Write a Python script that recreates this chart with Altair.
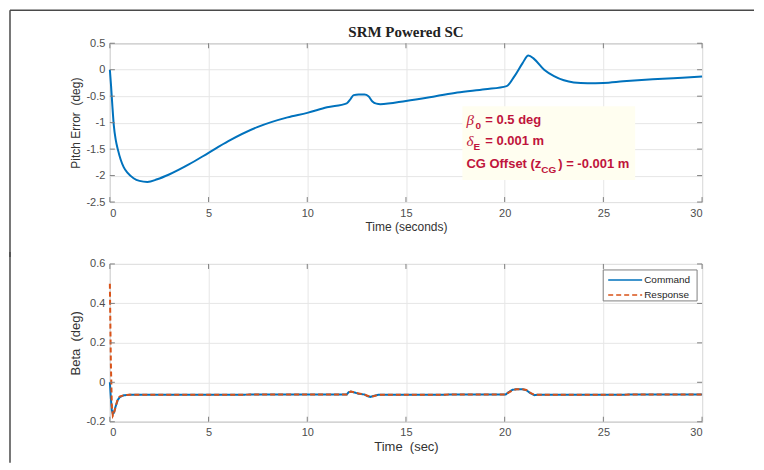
import altair as alt
import pandas as pd

# ---------------- data ----------------
t_pitch = [0, 0.06, 0.13, 0.2, 0.3, 0.4, 0.55, 0.7, 0.9, 1.2, 1.5, 1.9, 2.4, 3.0,
           4.0, 5.0, 6.0, 7.5, 9.0, 10.0, 11.0, 12.0, 12.2, 12.35, 12.6, 12.9,
           13.1, 13.3, 13.5, 13.7, 15.0, 16.5, 17.6, 19.0, 20.1, 20.5, 20.9, 21.2,
           21.5, 22.0, 22.5, 23.0, 23.5, 24.2, 25.0, 26.0, 27.5, 29.0, 30.0]
pitch = [0, -0.3, -0.7, -1.05, -1.33, -1.5, -1.7, -1.84, -1.95, -2.05, -2.1, -2.12, -2.07, -1.98,
         -1.79, -1.57, -1.35, -1.08, -0.9, -0.815, -0.71, -0.635, -0.55, -0.48, -0.47, -0.47,
         -0.5, -0.6, -0.64, -0.65, -0.59, -0.5, -0.43, -0.37, -0.31, -0.12, 0.12, 0.27,
         0.2, 0.0, -0.12, -0.2, -0.24, -0.255, -0.25, -0.22, -0.18, -0.15, -0.13]

t_beta = [0, 0.05, 0.1, 0.15, 0.2, 0.3, 0.4, 0.5, 0.7, 1.0, 12.0, 12.1, 12.2, 12.4, 12.6,
          12.9, 13.05, 13.2, 13.4, 13.6, 20.05, 20.2, 20.4, 20.6, 20.9, 21.1, 21.3, 21.5,
          21.7, 30.0]
beta_cmd = [0, -0.08, -0.14, -0.16, -0.155, -0.12, -0.09, -0.075, -0.066, -0.063, -0.062,
            -0.05, -0.047, -0.052, -0.058, -0.062, -0.07, -0.074, -0.068, -0.063, -0.062,
            -0.05, -0.038, -0.035, -0.035, -0.04, -0.055, -0.065, -0.063, -0.062]
beta_resp = [0.5, 0.1, -0.12, -0.17, -0.16, -0.12, -0.085, -0.072, -0.066, -0.063, -0.062,
             -0.052, -0.047, -0.051, -0.057, -0.062, -0.068, -0.074, -0.069, -0.063, -0.062,
             -0.052, -0.04, -0.035, -0.035, -0.039, -0.053, -0.064, -0.063, -0.062]
series_names = ["Command", "Response"]

x_ticks = [0, 5, 10, 15, 20, 25, 30]
pitch_ticks = [0.5, 0, -0.5, -1, -1.5, -2, -2.5]
beta_ticks = [-0.2, 0, 0.2, 0.4, 0.6]

TITLE = "SRM Powered SC"
X_TITLE_TOP = "Time (seconds)"
X_TITLE_BOT = "Time \u00a0(sec)"
Y_TITLE_TOP = "Pitch Error \u00a0(deg)"
Y_TITLE_BOT = "Beta \u00a0(deg)"

BLUE = "#0072BD"
ORANGE = "#D95319"
RED_TXT = "#C0143C"
FRAME = "#4A4A4A"
BOX = "#808080"
FONT = "Liberation Sans"
LBL = "datum.value + ''"

W = 593
H_TOP = 159
H_BOT = 158
TICK = 5

df_pitch = pd.DataFrame({"t": t_pitch, "v": pitch})
df_beta = pd.concat([
    pd.DataFrame({"t": t_beta, "v": beta_cmd, "series": series_names[0]}),
    pd.DataFrame({"t": t_beta, "v": beta_resp, "series": series_names[1]}),
])
one = pd.DataFrame({"a": [0]})

def xenc(title, tsize=12):
    return alt.X("t:Q", scale=alt.Scale(domain=[0, 30], nice=False),
                 axis=alt.Axis(values=x_ticks, title=title, labelExpr=LBL,
                               titleFontSize=tsize))

def yenc(domain, ticks, title, tsize=12):
    return alt.Y("v:Q", scale=alt.Scale(domain=domain, nice=False),
                 axis=alt.Axis(values=ticks, title=title, labelExpr=LBL,
                               titleFontSize=tsize))

def inward_ticks(xe, ye, yticks, h):
    dx = pd.DataFrame({"t": x_ticks})
    dy = pd.DataFrame({"v": yticks})
    r = dict(color=BOX, strokeWidth=1)
    return [
        alt.Chart(dx).mark_rule(**r).encode(x=xe, y=alt.value(h), y2=alt.value(h - TICK)),
        alt.Chart(dx).mark_rule(**r).encode(x=xe, y=alt.value(0), y2=alt.value(TICK)),
        alt.Chart(dy).mark_rule(**r).encode(y=ye, x=alt.value(0), x2=alt.value(TICK)),
        alt.Chart(dy).mark_rule(**r).encode(y=ye, x=alt.value(W), x2=alt.value(W - TICK)),
    ]

def hrule(x1, x2, y, color=FRAME, width=1.5, dash=None):
    kw = dict(color=color, strokeWidth=width)
    if dash:
        kw["strokeDash"] = dash
    return alt.Chart(one).mark_rule(**kw).encode(
        x=alt.value(x1), x2=alt.value(x2), y=alt.value(y))

def vrule(x, y1, y2):
    return alt.Chart(one).mark_rule(color=FRAME, strokeWidth=1.5).encode(
        x=alt.value(x), y=alt.value(y1), y2=alt.value(y2))

def txt(s, x, y, size=13, style="normal", font=FONT, weight="bold", color=RED_TXT,
        align="left"):
    return alt.Chart(pd.DataFrame({"s": [s]})).mark_text(
        align=align, baseline="middle", fontSize=size, font=font,
        fontStyle=style, fontWeight=weight, color=color).encode(
        text="s:N", x=alt.value(x), y=alt.value(y))

# ---------------- top panel ----------------
xe_top = xenc(X_TITLE_TOP)
ye_top = yenc([-2.5, 0.5], pitch_ticks, Y_TITLE_TOP)

top_line = alt.Chart(df_pitch).mark_line(
    color=BLUE, strokeWidth=2, interpolate="monotone").encode(x=xe_top, y=ye_top)

anno_box = alt.Chart(one).mark_rect(fill="#FFFEF0").encode(
    x=alt.value(353), x2=alt.value(526), y=alt.value(63), y2=alt.value(137))

anno = [
    txt("β", 357, 77, size=15, style="italic", font="Liberation Serif", weight="normal"),
    txt("0", 366, 83, size=10),
    txt("= 0.5 deg", 376, 77),
    txt("δ", 357, 98, size=15, style="italic", font="Liberation Serif", weight="normal"),
    txt("E", 364, 104, size=10),
    txt("= 0.001 m", 376, 98),
    txt("CG Offset (z", 357, 121),
    txt("CG", 432, 127, size=10),
    txt(") = -0.001 m", 449, 121),
]

title_txt = txt(TITLE, W / 2, -11, size=15, font="Liberation Serif", weight="bold",
                color="#222222", align="center")

top = alt.layer(
    top_line, *inward_ticks(xe_top, ye_top, pitch_ticks, H_TOP),
    anno_box, *anno, title_txt,
    hrule(-100, 645, -33), vrule(-100, -33, 214),
).properties(width=W, height=H_TOP)

# ---------------- bottom panel ----------------
xe_bot = xenc(X_TITLE_BOT, 13)
ye_bot = yenc([-0.2, 0.6], beta_ticks, Y_TITLE_BOT, 13)

bottom_lines = alt.Chart(df_beta).mark_line(strokeWidth=2).encode(
    x=xe_bot, y=ye_bot,
    color=alt.Color("series:N", scale=alt.Scale(domain=series_names, range=[BLUE, ORANGE]),
                    legend=None),
    strokeDash=alt.StrokeDash("series:N",
                              scale=alt.Scale(domain=series_names, range=[[1, 0], [5, 3]]),
                              legend=None),
)

# legend box (Command / Response)
leg_box = alt.Chart(one).mark_rect(fill="white", stroke=BOX, strokeWidth=1).encode(
    x=alt.value(494), x2=alt.value(588), y=alt.value(6), y2=alt.value(37))
legend = [
    leg_box,
    hrule(499, 533, 16, color=BLUE, width=1.5),
    hrule(499, 533, 31, color=ORANGE, width=1.5, dash=[5, 3]),
    txt(series_names[0], 535, 16, size=10, weight="normal", color="#262626"),
    txt(series_names[1], 535, 31, size=10, weight="normal", color="#262626"),
]

bottom = alt.layer(
    bottom_lines, *inward_ticks(xe_bot, ye_bot, beta_ticks, H_BOT),
    *legend, vrule(-100, -12, 199),
).properties(width=W, height=H_BOT)

chart = alt.vconcat(top, bottom, spacing=-9).properties(
    padding={"left": 0, "top": 0, "right": 0, "bottom": 0},
).configure_view(
    stroke=BOX, strokeWidth=1,
).configure_axis(
    labelFont=FONT, labelFontSize=11, labelColor="#4D4D4D",
    titleFont=FONT, titleFontSize=12, titleFontWeight="normal", titleColor="#333333",
    domain=False, ticks=False, gridColor="#E6E6E6", labelPadding=5, titlePadding=3,
)

chart.save("out.html", embed_options={"renderer": "svg", "actions": False})
